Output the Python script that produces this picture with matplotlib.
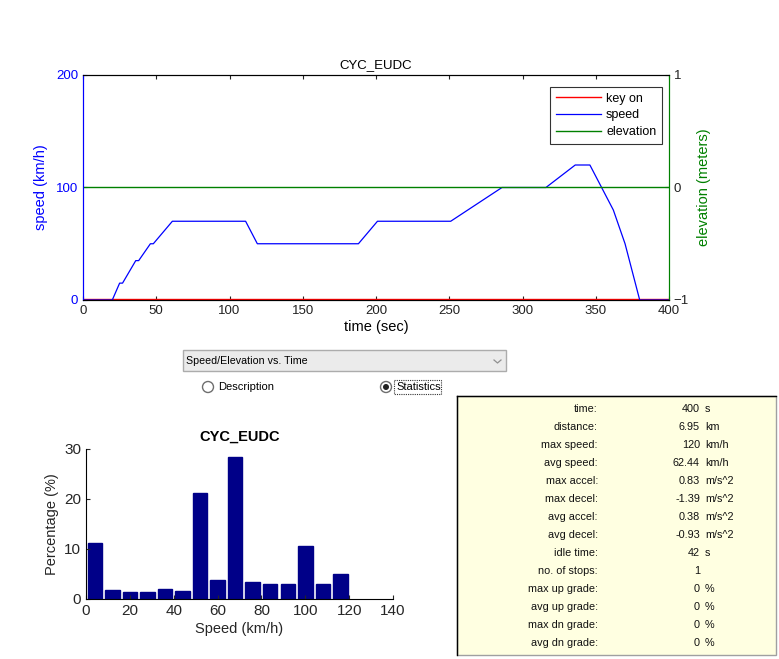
import matplotlib
matplotlib.use("Agg")
import matplotlib.pyplot as plt
from matplotlib.patches import Rectangle, Circle
from matplotlib.lines import Line2D

plt.rcParams['font.family'] = ['Liberation Sans', 'DejaVu Sans']

W, H = 779, 659

# ---- data ----
time_s = [0, 20, 25, 27, 36, 38, 46, 48, 61, 111, 119, 188, 201, 251, 286, 316, 336, 346, 362, 370, 380, 400]
speed_kmh = [0, 0, 15, 15, 35, 35, 50, 50, 70, 70, 50, 50, 70, 70, 100, 100, 120, 120, 80, 50, 0, 0]
keyon_t = [0, 400]
keyon_v = [1, 1]
elev_t = [0, 400]
elev_m = [0, 0]

hist_centers = [4, 12, 20, 28, 36, 44, 52, 60, 68, 76, 84, 92, 100, 108, 116]
hist_pct = [11.3, 1.9, 1.5, 1.5, 2.1, 1.7, 21.3, 3.9, 28.5, 3.5, 3.1, 3.1, 10.7, 3.1, 5.1]

stat_labels = ["time:", "distance:", "max speed:", "avg speed:", "max accel:", "max decel:",
               "avg accel:", "avg decel:", "idle time:", "no. of stops:", "max up grade:",
               "avg up grade:", "max dn grade:", "avg dn grade:"]
stat_values = ["400", "6.95", "120", "62.44", "0.83", "-1.39", "0.38", "-0.93", "42", "1",
               "0", "0", "0", "0"]
stat_units = ["s", "km", "km/h", "km/h", "m/s^2", "m/s^2", "m/s^2", "m/s^2", "s", "",
              "%", "%", "%", "%"]

fig = plt.figure(figsize=(W / 100, H / 100), dpi=100)


def px_axes(l, t, r, b):
    return fig.add_axes([l / W, 1 - b / H, (r - l) / W, (b - t) / H])


# ---- background overlay (GUI elements) ----
bg = fig.add_axes([0, 0, 1, 1])
bg.set_xlim(0, W)
bg.set_ylim(H, 0)
bg.axis('off')

# dropdown
bg.add_patch(Rectangle((183, 350), 323, 21, facecolor='#ebebeb', edgecolor='#acacac', lw=1))
bg.text(186, 361, "Speed/Elevation vs. Time", fontsize=7.7, va='center', ha='left', color='#000000')
bg.add_line(Line2D([494, 497.5, 501], [360, 363, 360], color='#909090', lw=0.9))

# radio buttons
bg.add_patch(Circle((208, 387), 5.5, facecolor='white', edgecolor='#6e6e6e', lw=1))
bg.text(218, 387, "Description", fontsize=8, va='center', ha='left')
bg.add_patch(Circle((386, 387), 5.5, facecolor='white', edgecolor='#6e6e6e', lw=1))
bg.add_patch(Circle((386, 387), 3.0, facecolor='#222222', edgecolor='none'))
bg.text(396, 387, "Statistics", fontsize=8, va='center', ha='left')
bg.add_patch(Rectangle((394.5, 380), 47, 14, facecolor='none', edgecolor='#333333', lw=0.8, ls=(0, (1, 1))))

# stats panel
bg.add_patch(Rectangle((457, 396), 319, 259, facecolor='#ffffe1', edgecolor='#a0a0a0', lw=1))
bg.add_line(Line2D([457, 457], [396, 655], color='#000000', lw=1))
bg.add_line(Line2D([457, 776], [396, 396], color='#000000', lw=1))
for i, (lab, val, unit) in enumerate(zip(stat_labels, stat_values, stat_units)):
    y = 409 + 18 * i
    bg.text(598, y, lab, fontsize=7.8, ha='right', va='center', color='#111111')
    bg.text(700, y, val, fontsize=7.8, ha='right', va='center', color='#111111')
    bg.text(705, y, unit, fontsize=7.8, ha='left', va='center', color='#111111')

# ---- top chart ----
ax = px_axes(83, 75, 669, 300)
ax2 = ax.twinx()
ax2.set_zorder(ax.get_zorder() + 1)
ax2.patch.set_visible(False)
l1, = ax.plot(keyon_t, keyon_v, color='red', lw=1.0, label='key on')
l2, = ax.plot(time_s, speed_kmh, color='blue', lw=0.9, label='speed')
l3, = ax2.plot(elev_t, elev_m, color='green', lw=1.0, label='elevation')
ax.set_xlim(0, 400)
ax.set_ylim(0, 200)
ax2.set_ylim(-1, 1)
ax.set_xticks(range(0, 401, 50))
ax.set_yticks([0, 100, 200])
ax2.set_yticks([-1, 0, 1])
ax.tick_params(axis='x', direction='in', top=True, labelsize=9.5, length=3, colors='#222222')
ax.tick_params(axis='y', direction='in', colors='blue', labelsize=9.5, length=3)
ax2.tick_params(axis='y', direction='in', colors='green', labelcolor='#222222', labelsize=9.5, length=3)
for a in (ax, ax2):
    a.spines['left'].set_color('blue')
    a.spines['right'].set_color('green')
ax.set_title("CYC_EUDC", fontsize=9.5, pad=5)
ax.set_xlabel("time (sec)", fontsize=10.5, labelpad=2)
ax.set_ylabel("speed (km/h)", fontsize=10.5, color='blue', labelpad=6)
ax2.set_ylabel("elevation (meters)", fontsize=10.5, color='green', labelpad=6)
leg = ax2.legend([l1, l2, l3], ['key on', 'speed', 'elevation'], loc='upper right',
                 fontsize=9, frameon=True, fancybox=False, edgecolor='black',
                 borderpad=0.45, handlelength=3.6, handletextpad=0.4, labelspacing=0.38,
                 borderaxespad=0, bbox_to_anchor=(0.988, 0.947))
leg.get_frame().set_linewidth(0.8)

# ---- histogram ----
hx = px_axes(86, 449, 393, 599)
hx.bar(hist_centers, hist_pct, width=6.6, color='#000088', edgecolor='#000088')
hx.set_xlim(0, 140)
hx.set_ylim(0, 30)
hx.set_xticks(range(0, 141, 20))
hx.set_yticks([0, 10, 20, 30])
hx.spines['top'].set_visible(False)
hx.spines['right'].set_visible(False)
hx.tick_params(direction='in', labelsize=11, length=3, colors='#262626')
hx.set_title("CYC_EUDC", fontsize=10.5, fontweight='bold', pad=6)
hx.set_xlabel("Speed (km/h)", fontsize=10.5, color='#262626', labelpad=3)
hx.set_ylabel("Percentage (%)", fontsize=10.5, color='#262626', labelpad=4)

fig.savefig("out.png", dpi=100)
